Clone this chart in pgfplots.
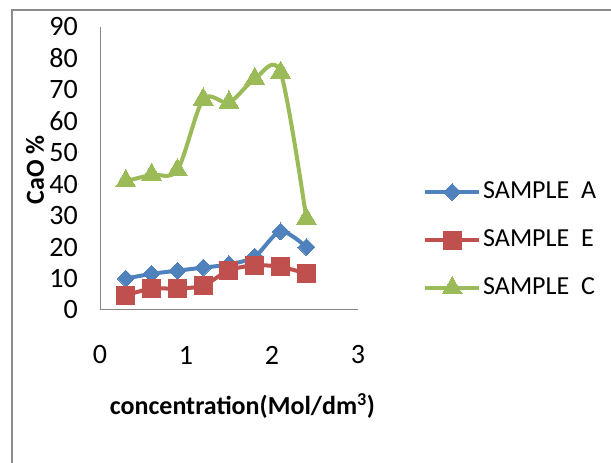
\documentclass[border=0pt]{standalone}
\usepackage{fontspec}
\setmainfont{Carlito}
\usepackage{pgfplots}
\pgfplotsset{compat=1.18}
\definecolor{cA}{HTML}{4F81BD}
\definecolor{cE}{HTML}{C0504D}
\definecolor{cC}{HTML}{9BBB59}
\definecolor{axgray}{HTML}{868686}
\definecolor{framegray}{HTML}{8C8C8C}
\newcommand\bigf{\fontsize{26}{31}\selectfont}
\newcommand\tickf{\fontsize{28}{33}\selectfont}
\begin{document}
\begin{tikzpicture}[x=1pt,y=1pt]
\useasboundingbox (0,0) rectangle (611,463);
\draw[framegray, line width=1.5pt] (12,0) -- (12,453) -- (611,453);
\begin{axis}[
  at={(100pt,153pt)}, anchor=south west,
  scale only axis, width=258pt, height=283pt,
  xmin=0, xmax=3, ymin=0, ymax=90,
  axis lines=left,
  axis line style={-, axgray, line width=1pt},
  xtick={0,1,2,3}, ytick={0,10,...,90},
  major tick length=0pt,
  tick style={draw=none},
  /pgf/number format/assume math mode=true,
  xticklabel style={font=\tickf, anchor=center, yshift=-45pt},
  yticklabel style={font=\tickf, anchor=east, inner sep=0pt, xshift=-22pt},
  xlabel={concentration(Mol/dm\textsuperscript{3})},
  ylabel={CaO \%},
  every axis x label/.style={at={(rel axis cs:0.552,0)}, anchor=center, yshift=-96pt, font=\bigf\bfseries},
  every axis y label/.style={at={(rel axis cs:-0.252,0.495)}, rotate=90, anchor=center, font=\bigf\bfseries},
  clip=false,
  legend style={at={(rel axis cs:1.252,0.247)}, anchor=west, draw=none, fill=none,
    inner sep=0pt, row sep=20pt,
    nodes={inner sep=2pt, font=\bigf, text height=18pt, text depth=6pt}},
  legend cell align=left,
  legend image code/.code={\draw[mark repeat=2, mark phase=2, #1] plot coordinates {(0pt,0pt) (27pt,0pt) (54pt,0pt)};},
]
\addplot[cA, line width=4pt, smooth, tension=0.5, mark=square*, mark size=6pt, mark options={solid, rotate=45, fill=cA, draw=cA, line width=0pt}]
  coordinates {(0.3,10) (0.6,11.5) (0.9,12.5) (1.2,13.5) (1.5,14.5) (1.8,17) (2.1,25) (2.4,20)};
\addlegendentry{SAMPLE\ \ A}
\addplot[cE, line width=4pt, smooth, tension=0.5, mark=square*, mark size=9pt, mark options={solid, fill=cE, draw=cE, line width=0pt}]
  coordinates {(0.3,4.7) (0.6,6.8) (0.9,6.8) (1.2,7.8) (1.5,12.6) (1.8,14.2) (2.1,13.7) (2.4,11.6)};
\addlegendentry{SAMPLE\ \ E}
\addplot[cC, line width=4pt, smooth, tension=0.5, mark=triangle*, mark size=11.5pt, mark options={solid, fill=cC, draw=cC, line width=0pt}]
  coordinates {(0.3,41) (0.6,43) (0.9,44.5) (1.2,67) (1.5,66) (1.8,73.5) (2.1,75.5) (2.4,29)};
\addlegendentry{SAMPLE\ \ C}
\end{axis}
\end{tikzpicture}
\end{document}
